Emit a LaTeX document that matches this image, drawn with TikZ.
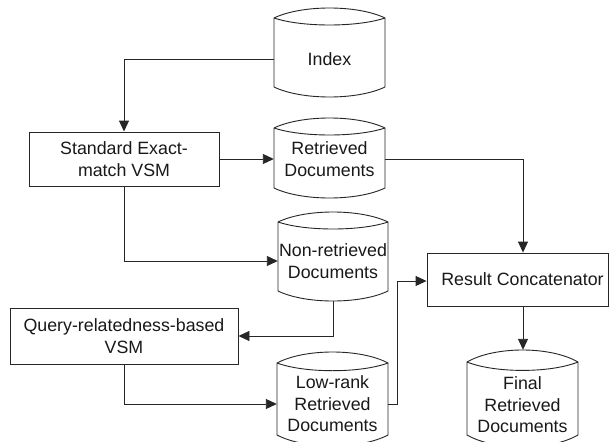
\documentclass[tikz,border=0pt]{standalone}
\usepackage{fontspec}
\setmainfont{Liberation Sans}
\usetikzlibrary{arrows.meta,calc}
\tikzset{
  lbl/.style={font=\fontsize{17.8}{21.5}\selectfont, align=center, text=black!90},
  boxnode/.style={lbl, draw=black!85, line width=0.9pt, rectangle, inner sep=0pt},
  dbnode/.style={lbl, rectangle, inner sep=0pt},
  shapeline/.style={draw=black!85, line width=0.9pt},
  arr/.style={draw=black!85, line width=0.9pt, -{Triangle[length=11pt,width=10pt]}}
}
\newcommand\dbcyl[5]{%
  \pgfmathsetmacro\qa{#1+(#2-#1)/4}%
  \pgfmathsetmacro\qb{#2-(#2-#1)/4}%
  \pgfmathsetmacro\bu{(#4-#3)*4/3}%
  \draw[shapeline] (#1,#4) .. controls (\qa,{#4-\bu}) and (\qb,{#4-\bu}) .. (#2,#4)
     -- (#2,#5) .. controls (\qb,{#5+\bu}) and (\qa,{#5+\bu}) .. (#1,#5) -- cycle;
  \draw[shapeline] (#1,#4) .. controls (\qa,{#4+0.7*\bu}) and (\qb,{#4+0.7*\bu}) .. (#2,#4);
}
\begin{document}
\begin{tikzpicture}[x=1pt,y=-1pt]
\useasboundingbox (0,0) rectangle (609,441);
\clip (0,0) rectangle (609,441);
\fill[white] (0,0) rectangle (609,441);

% cylinder outlines
\dbcyl{274}{385}{8}{18}{87}
\dbcyl{274}{385}{118}{128}{188}
\dbcyl{278}{388}{212}{222}{291}
\dbcyl{277}{388}{352}{363}{435}
\dbcyl{467}{578}{350}{362}{435}

% cylinder nodes (text)
\node[dbnode, minimum width=111pt] (idx) at (329.5,59) {Index};
\node[dbnode, minimum width=111pt] (ret) at (329.5,159) {Retrieved\\Documents};
\node[dbnode, minimum width=110pt, minimum height=80pt] (nr) at (333,261) {Non-retrieved\\Documents};
\node[dbnode, minimum width=111pt] (lr) at (332.5,404) {Low-rank\\Retrieved\\Documents};
\node[dbnode, minimum width=111pt, minimum height=110pt] (fin) at (522.5,405) {Final\\Retrieved\\Documents};

% boxes
\node[boxnode, minimum width=190pt, minimum height=54pt] (std) at (124,159) {Standard Exact-\\match VSM};
\node[boxnode, minimum width=228pt, minimum height=56pt] (qry) at (124,336) {Query-relatedness-based\\VSM};
\node[boxnode, minimum width=181pt, minimum height=53pt] (res) at (517.5,279.5) {\hspace*{10pt}Result Concatenator};

% connectors
\draw[arr] (idx.west) -| (std.north);
\draw[arr] (std.east) -- (std.east -| ret.west);
\draw[arr] (std.south) |- (nr.west);
\draw[arr] (nr.south) |- (qry.east);
\draw[arr] (qry.south) |- (lr.west);
\draw[arr] (lr.east) -- ++(9,0) |- ([yshift=-1.5pt]res.west);
\draw[arr] (ret.east) -| ([xshift=5.5pt]res.north);
\draw[arr] ([xshift=5.5pt]res.south) -- ([xshift=5.5pt]res.south |- fin.north);
\end{tikzpicture}
\end{document}
